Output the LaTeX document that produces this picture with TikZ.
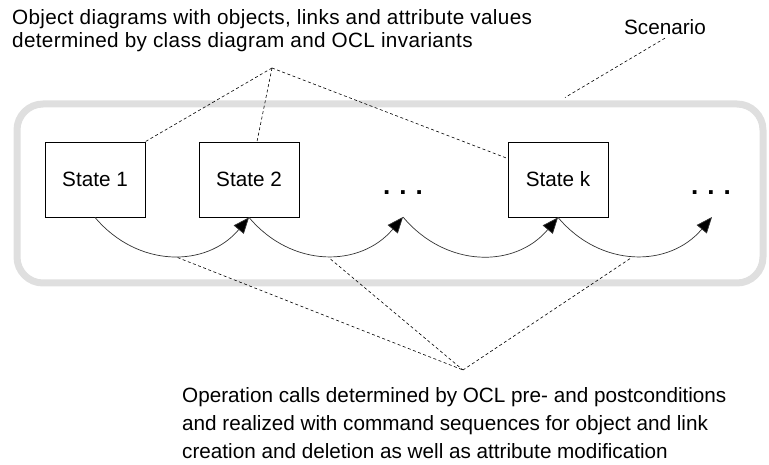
\documentclass[tikz,border=0pt]{standalone}
\usepackage{fontspec}
\setmainfont{Liberation Sans}
\usetikzlibrary{arrows.meta}
\tikzset{
  state/.style={draw, line width=0.8pt, minimum width=100pt, minimum height=75pt, inner sep=0pt},
  frame/.style={draw=gray!25, line width=7pt, rounded corners=26pt, minimum width=746pt, minimum height=179pt},
  note/.style={dash pattern=on 3pt off 2.5pt, line width=0.6pt},
  call/.style={line width=0.7pt, draw=black!80, -{Triangle[length=16pt,width=13pt,fill=black]}},
  txt/.style={inner sep=0pt, align=left, anchor=north west}
}
\newcommand{\moredots}{\fontsize{26}{26}\selectfont\textbf{.\hspace{9pt}.\hspace{9pt}.}}
\begin{document}
\begin{tikzpicture}[x=1pt,y=-1pt,font=\fontsize{20.7}{24}\selectfont]
\useasboundingbox (0,0) rectangle (769,465);
\node[frame] (scen) at (390,193.5) {};
\node[state] (s1) at (95,179.5) {State 1};
\node[state] (s2) at (249,179.5) {State 2};
\node[state] (sk) at (558,179.5) {State k};
\node[inner sep=0pt] (dotsA) at (403,193) {\moredots};
\node[inner sep=0pt] (dotsB) at (711,193) {\moredots};
\coordinate (endA) at (403,217);
\coordinate (endB) at (712,217);
\draw[call] (s1.south) to[out=-50,in=-130,looseness=1.1] node[coordinate,pos=0.5] (op1) {} (s2.south);
\draw[call] (s2.south) to[out=-50,in=-130,looseness=1.1] node[coordinate,pos=0.5] (op2) {} (endA);
\draw[call] (endA) to[out=-50,in=-130,looseness=1.1] (sk.south);
\draw[call] (sk.south) to[out=-50,in=-130,looseness=1.1] node[coordinate,pos=0.5] (op4) {} (endB);
\node[txt,font=\fontsize{20.7}{23}\selectfont\addfontfeature{LetterSpace=1.6}] (objnote) at (12,9) {Object diagrams with objects, links and attribute values\\determined by class diagram and OCL invariants};
\coordinate (objtip) at (272,68);
\draw[note] (objtip) -- (s1.north east);
\draw[note] (objtip) -- ([xshift=8pt]s2.north);
\draw[note] (objtip) -- ([yshift=21pt]sk.west);
\node (scenlbl) at (665,27) {Scenario};
\draw[note] (scenlbl.south) -- ([xshift=175pt,yshift=3pt]scen.north);
\node[txt,font=\fontsize{20.7}{28}\selectfont] (opnote) at (182,387) {Operation calls determined by OCL pre- and postconditions\\and realized with command sequences for object and link\\creation and deletion as well as attribute modification};
\coordinate (optip) at (463,370);
\draw[note,shorten <=6pt] (op1) -- (optip);
\draw[note,shorten <=6pt] (op2) -- (optip);
\draw[note,shorten <=6pt] (op4) -- (optip);
\end{tikzpicture}
\end{document}
